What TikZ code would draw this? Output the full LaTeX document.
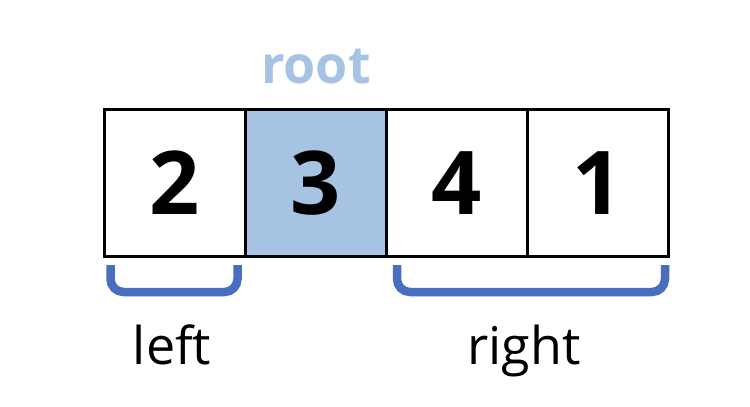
\documentclass[tikz,border=0pt]{standalone}
\usepackage{fontspec}
\setmainfont{Open Sans}
\definecolor{rootblue}{HTML}{A7C3E4}
\definecolor{bracketblue}{HTML}{4A6EBF}
\begin{document}
\begin{tikzpicture}[x=1pt,y=-1pt,
  cell/.style={draw=black,line width=2.6pt,minimum width=141pt,minimum height=147pt,inner sep=0pt,anchor=north west,font=\fontsize{88}{88}\selectfont\bfseries},
  brace/.style={draw=bracketblue,line width=8.5pt,rounded corners=13pt},
  lbl/.style={anchor=base,inner sep=0pt,font=\fontsize{52}{52}\selectfont}]
\useasboundingbox (0,0) rectangle (750,407);
\node[cell] (c1) at (103,108) {2};
\node[cell,fill=rootblue] (c2) at (244,108) {3};
\node[cell] (c3) at (385,108) {4};
\node[cell] (c4) at (526,108) {1};
\node[anchor=base,inner sep=0pt,text=rootblue,font=\fontsize{52}{52}\selectfont\bfseries] (root) at (316,83) {root};
\coordinate (la) at (110.5,265);
\coordinate (lb) at (237.5,265);
\coordinate (ra) at (397,265);
\coordinate (rb) at (665,265);
\draw[brace] (la) -- (la |- 0,292) -- (lb |- 0,292) -- (lb);
\draw[brace] (ra) -- (ra |- 0,292) -- (rb |- 0,292) -- (rb);
\node[lbl] (left) at (172,364) {left};
\node[lbl] (right) at (524,364) {right};
\end{tikzpicture}
\end{document}
